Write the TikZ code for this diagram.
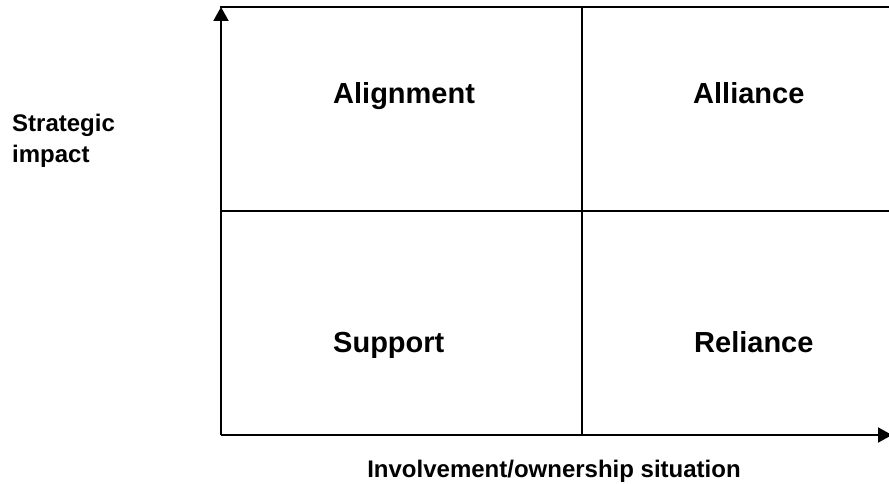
\documentclass[tikz,border=0pt]{standalone}
\usepackage{fontspec}
\setmainfont{Liberation Sans}
\usetikzlibrary{arrows.meta,positioning}

\begin{document}
\begin{tikzpicture}[x=1pt,y=-1pt]
                \tikzstyle{gridline} = [line width=2pt, line cap=rect];
                \tikzstyle{axis} = [line width=2pt, -{Triangle[length=14pt,width=15pt]}];
                \tikzstyle{quadrant} = [font=\fontsize{29}{34}\selectfont\bfseries, anchor=base west, inner sep=0pt];
                \tikzstyle{axislabel} = [font=\fontsize{24}{31}\selectfont\bfseries, inner sep=0pt];

                \useasboundingbox (0,0) rectangle (889,484);

                % corners of the matrix
                \coordinate (origin) at (221,435);
                \coordinate (top) at (221,7);
                \coordinate (right) at (892,435);
                \coordinate (topmid) at (582,7);
                \coordinate (topright) at (889,7);
                \coordinate (botmid) at (582,435);
                \coordinate (leftmid) at (221,211);
                \coordinate (rightmid) at (889,211);

                \draw[axis] (origin) -- (top);
                \draw[axis] (origin) -- (right);
                \draw[gridline]
                    (top) -- (topright)
                    (topmid) -- (botmid)
                    (leftmid) -- (rightmid)
                ;

                \node[quadrant](alignment) at (333,104) {Alignment};
                \node[quadrant](alliance) at (693,104) {Alliance};
                \node[quadrant](support) at (333,352) {Support};
                \node[quadrant](reliance) at (694,352) {Reliance};

                % base of a two-line node is its last line
                \node[axislabel, align=left, anchor=base west](impact) at (12,163) {Strategic\\impact};
                \node[axislabel, anchor=base](situation) at (554,477) {Involvement/ownership situation};
            \end{tikzpicture}
\end{document}
